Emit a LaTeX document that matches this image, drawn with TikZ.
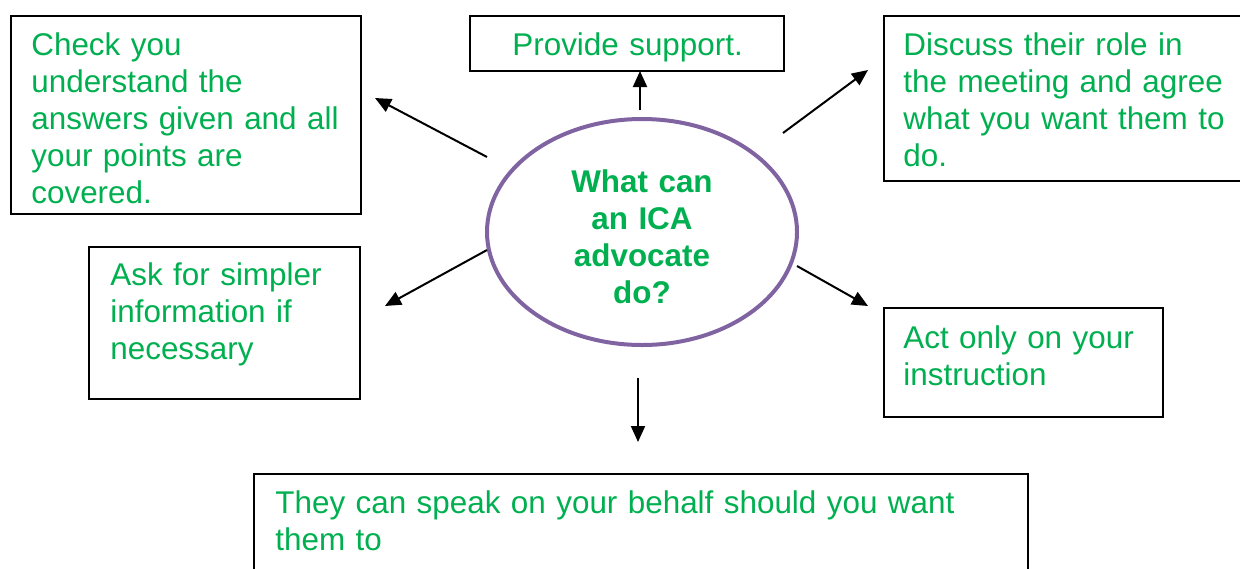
\documentclass[tikz,border=0pt]{standalone}
\usepackage{fontspec}
\setmainfont{Liberation Sans}
\usetikzlibrary{shapes.geometric,arrows.meta}
\definecolor{txtgreen}{HTML}{00B050}
\definecolor{ringpurple}{HTML}{8064A2}
\newcommand{\labelsize}{\fontsize{15.7}{18.5}\selectfont}
\begin{document}
\begin{tikzpicture}[x=0.5pt,y=-0.5pt,
  infobox/.style={draw=black,line width=1pt,fill=white,inner sep=0pt,anchor=north west},
  boxtext/.style={text=txtgreen,font=\labelsize,anchor=base west,
    inner sep=0pt,text width=200pt,align=left},
  pointer/.style={line width=1pt,-{Triangle[length=8pt,width=7pt]}}]
\useasboundingbox (0,0) rectangle (1240,568);
\clip (0,0) rectangle (1240,568);

% frames
\node[infobox,minimum width=175pt,minimum height=99pt] (check) at (10,15) {};
\node[infobox,minimum width=157pt,minimum height=27.5pt] (support) at (469,15) {};
\node[infobox,minimum width=188.5pt,minimum height=82.5pt] (discuss) at (883,15) {};
\node[infobox,minimum width=135.5pt,minimum height=76pt] (ask) at (88,246) {};
\node[infobox,minimum width=139.5pt,minimum height=54.5pt] (act) at (883,307) {};
\node[infobox,minimum width=387pt,minimum height=73.5pt] (speak) at (253,473) {};

% central question
\node[ellipse,draw=ringpurple,line width=2pt,fill=white,inner sep=0pt,
  minimum width=155pt,minimum height=113pt] (hub) at (642,232) {};
\node[text=txtgreen,font=\labelsize\bfseries,anchor=base,
  inner sep=0pt,text width=100pt,align=center] (question) at (642,192)
  {What can\\an ICA\\advocate\\do?};

% texts
\node[boxtext] (checkt) at (31,55) {Check you\\understand the\\answers given and all\\your points are\\covered.};
\node[boxtext] (supportt) at (512,55) {Provide support.};
\node[boxtext] (discusst) at (903,55) {Discuss their role in\\the meeting and agree\\what you want them to\\do.};
\node[boxtext] (askt) at (110,285) {Ask for simpler\\information if\\necessary};
\node[boxtext] (actt) at (903,348) {Act only on your\\instruction};
\node[boxtext,text width=380pt] (speakt) at (275,513) {They can speak on your behalf should you want\\them to};

% arrow ends
\coordinate (s1) at (487,157); \coordinate (e1) at (375,98);
\coordinate (s2) at (640,110); \coordinate (e2) at (640,71);
\coordinate (s3) at (783,133); \coordinate (e3) at (868,70);
\coordinate (s4) at (487,250); \coordinate (e4) at (385,306);
\coordinate (s5) at (797,266); \coordinate (e5) at (868,306);
\coordinate (s6) at (638,378); \coordinate (e6) at (638,442);

\draw[pointer] (s1) -- (e1);
\draw[pointer] (s2) -- (e2);
\draw[pointer] (s3) -- (e3);
\draw[pointer] (s4) -- (e4);
\draw[pointer] (s5) -- (e5);
\draw[pointer] (s6) -- (e6);
\end{tikzpicture}
\end{document}
